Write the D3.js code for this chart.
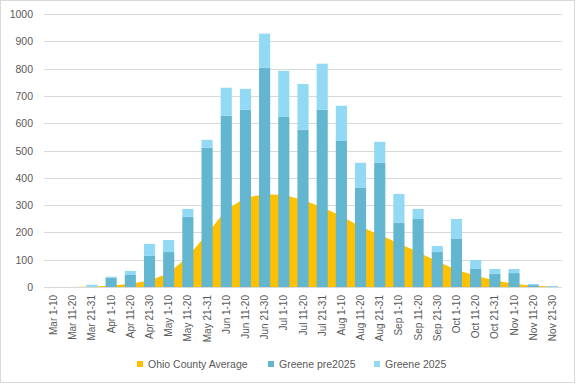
<!DOCTYPE html>
<html>

<head>
  <meta charset='utf-8'>
  <script src='https://cdn.jsdelivr.net/npm/d3@7'></script>
  <style>
    body {
      margin: 0;
      background: white;
    }

    svg text {
      font-family: 'Liberation Sans', Arial, sans-serif;
      fill: #595959;
    }
  </style>
</head>

<body>
  <svg id='chart' width='576' height='384'></svg>
  <script type='text/javascript'>
    /*
      values (10-day periods)
    */
    var periods = ['Mar 1-10', 'Mar 11-20', 'Mar 21-31', 'Apr 1-10', 'Apr 11-20', 'Apr 21-30',
      'May 1-10', 'May 11-20', 'May 21-31', 'Jun 1-10', 'Jun 11-20', 'Jun 21-30',
      'Jul 1-10', 'Jul 11-20', 'Jul 21-31', 'Aug 1-10', 'Aug 11-20', 'Aug 21-31',
      'Sep 1-10', 'Sep 11-20', 'Sep 21-30', 'Oct 1-10', 'Oct 11-20', 'Oct 21-31',
      'Nov 1-10', 'Nov 11-20', 'Nov 21-30'
    ];
    var ohioAvg = [0, 0, 2, 5, 12, 24, 50, 112, 195, 283, 327, 340, 337, 319, 292, 260, 221,
      191, 159, 128, 93, 63, 41, 24, 12, 5, 2
    ];
    var greenePre = [0, 0, 0, 34, 44, 114, 128, 257, 510, 627, 649, 803, 623, 576, 649, 535,
      363, 455, 235, 249, 128, 176, 66, 48, 51, 7, 0
    ];
    var greene2025 = [0, 0, 8, 4, 15, 44, 44, 29, 29, 103, 77, 125, 169, 168, 169, 129, 92,
      77, 106, 37, 22, 73, 33, 18, 15, 4, 4
    ];
    var yTicks = [0, 100, 200, 300, 400, 500, 600, 700, 800, 900, 1000];

    function draw() {
      'use strict';
      var svg = d3.select('#chart');
      var left = 44,
        right = 562,
        top = 14,
        bottom = 287;

      // chart border
      svg.append('rect')
        .attr('x', 0.5)
        .attr('y', 0.5)
        .attr('width', 574)
        .attr('height', 382)
        .attr('fill', 'white')
        .attr('stroke', '#d9d9d9');

      var x = d3.scaleBand()
        .domain(periods)
        .range([left, right])
        .paddingInner(0.42)
        .paddingOuter(0.21);
      var y = d3.scaleLinear()
        .domain([0, 1000])
        .range([bottom, top]);

      // gridlines + y labels
      svg.append('g')
        .selectAll('line')
        .data(yTicks)
        .enter()
        .append('line')
        .attr('x1', left)
        .attr('x2', right)
        .attr('y1', function(d) { return Math.round(y(d)) + 0.5; })
        .attr('y2', function(d) { return Math.round(y(d)) + 0.5; })
        .attr('stroke', '#d9d9d9');
      svg.append('g')
        .selectAll('text')
        .data(yTicks)
        .enter()
        .append('text')
        .attr('x', 33)
        .attr('y', function(d) { return y(d) + 4; })
        .attr('text-anchor', 'end')
        .style('font-size', '10.5px')
        .text(function(d) { return d; });

      // Ohio average as an area through category centres
      var area = d3.area()
        .x(function(d, i) { return x(periods[i]) + x.bandwidth() / 2; })
        .y0(y(0))
        .y1(function(d) { return y(d); });
      svg.append('path')
        .datum(ohioAvg)
        .attr('d', area)
        .attr('fill', '#ffc000');

      // stacked Greene bars
      var stackData = periods.map(function(p, i) {
        return { period: p, pre: greenePre[i], cur: greene2025[i] };
      });
      var stacked = d3.stack().keys(['pre', 'cur'])(stackData);
      var colors = { pre: '#62b6cf', cur: '#92d9f4' };
      svg.append('g')
        .selectAll('g')
        .data(stacked)
        .enter()
        .append('g')
        .attr('fill', function(d) { return colors[d.key]; })
        .selectAll('rect')
        .data(function(d) { return d; })
        .enter()
        .append('rect')
        .attr('x', function(d) { return x(d.data.period); })
        .attr('width', x.bandwidth())
        .attr('y', function(d) { return y(d[1]); })
        .attr('height', function(d) { return y(d[0]) - y(d[1]); });

      // x labels, rotated
      svg.append('g')
        .selectAll('text')
        .data(periods)
        .enter()
        .append('text')
        .attr('transform', function(d) {
          return 'translate(' + (x(d) + x.bandwidth() / 2 + 3.5) + ',295) rotate(-90)';
        })
        .attr('text-anchor', 'end')
        .style('font-size', '10px')
        .text(function(d) { return d; });

      // legend
      var legend = [
        { name: 'Ohio County Average', color: '#ffc000', x: 137 },
        { name: 'Greene pre2025', color: '#62b6cf', x: 268 },
        { name: 'Greene 2025', color: '#92d9f4', x: 374 }
      ];
      var lg = svg.append('g')
        .selectAll('g')
        .data(legend)
        .enter()
        .append('g')
        .attr('transform', function(d) { return 'translate(' + d.x + ',361)'; });
      lg.append('rect')
        .attr('width', 6)
        .attr('height', 6)
        .attr('fill', function(d) { return d.color; });
      lg.append('text')
        .attr('x', 11)
        .attr('y', 7)
        .style('font-size', '10.5px')
        .text(function(d) { return d.name; });
    }

    draw();
  </script>
</body>

</html>
